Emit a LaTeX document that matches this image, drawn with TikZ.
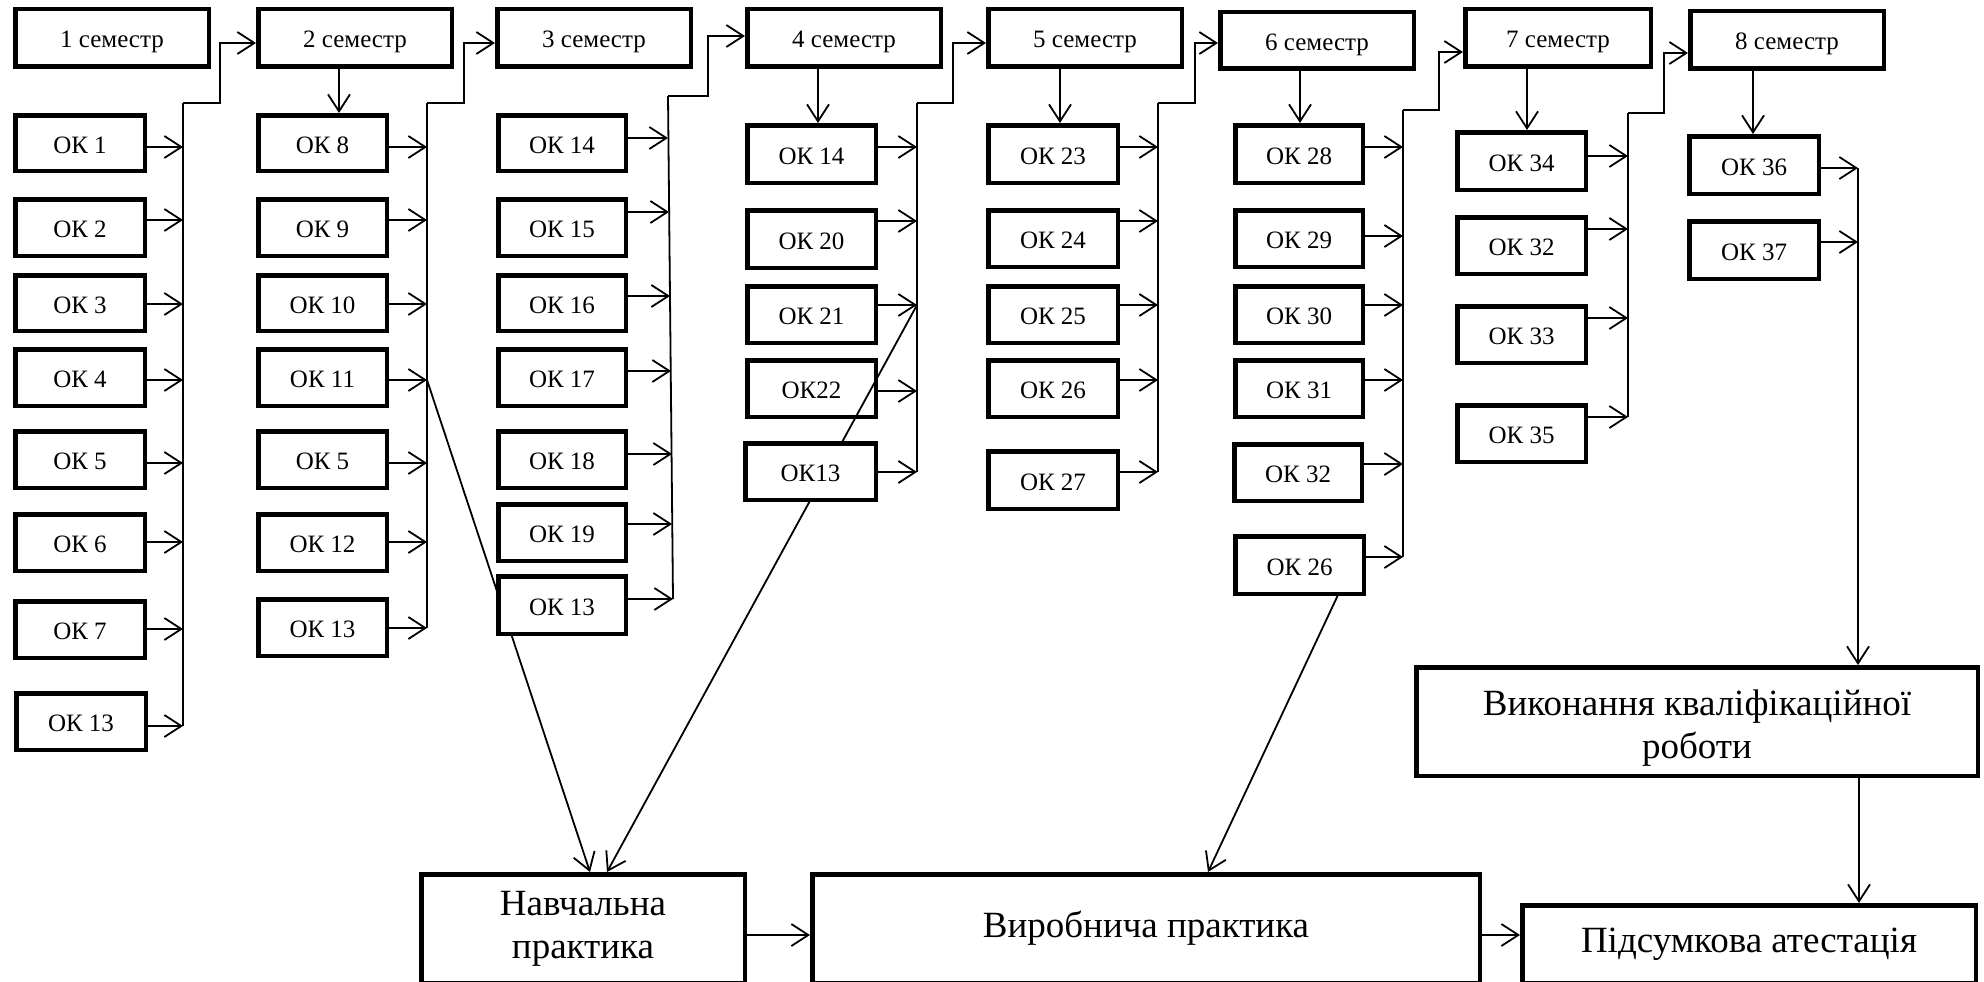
\documentclass[tikz,border=0pt]{standalone}
\usepackage{fontspec}
\setmainfont{Liberation Serif}
\usetikzlibrary{arrows.meta,calc}
\tikzset{
  box/.style={draw, line width=4.5pt, fill=white, inner sep=0pt, align=center, font=\fontsize{25}{30}\selectfont, text height=20pt, text depth=0pt},
  bigbox/.style={font=\fontsize{37}{43}\selectfont, text height=, text depth=},
  conn/.style={line width=1.8pt, -{Straight Barb[length=17pt,width=22pt]}},
  bus/.style={line width=1.8pt},
}
\newcommand\bx[7][]{\node[box,#1,minimum width={#5-#3-4.5},minimum height={#6-#4-4.5}] (#2) at ({(#3+#5)/2},{(#4+#6)/2}) {#7};}
\begin{document}
\begin{tikzpicture}[x=1pt,y=-1pt]
\fill[white] (0,0) rectangle (1984,982);
\useasboundingbox (0,0) rectangle (1984,982);

% bottom boxes
\bx[bigbox]{nav}{419}{872}{747}{985}{Навчальна\\практика}
\bx[bigbox]{vyr}{810}{872}{1482}{985}{Виробнича практика}
\bx[bigbox]{pid}{1520}{903}{1978}{985}{Підсумкова атестація}
\bx[bigbox]{vyk}{1414}{665}{1980}{778}{\smash{\raisebox{-13pt}{\begin{tabular}{@{}c@{}}Виконання кваліфікаційної\\роботи\end{tabular}}}}

% semesters
\bx{s1}{13}{7}{211}{69}{1 семестр}
\bx{s2}{256}{7}{454}{69}{2 семестр}
\bx{s3}{495}{7}{693}{69}{3 семестр}
\bx{s4}{745}{7}{943}{69}{4 семестр}
\bx{s5}{986}{7}{1184}{69}{5 семестр}
\bx{s6}{1218}{10}{1416}{71}{6 семестр}
\bx{s7}{1463}{7}{1653}{69}{7 семестр}
\bx{s8}{1688}{9}{1886}{71}{8 семестр}

% column 1
\bx{a1}{13}{113}{147}{173}{ОК 1}
\bx{a2}{13}{197}{147}{258}{ОК 2}
\bx{a3}{13}{273}{147}{333}{ОК 3}
\bx{a4}{13}{347}{147}{408}{ОК 4}
\bx{a5}{13}{429}{147}{490}{ОК 5}
\bx{a6}{13}{512}{147}{573}{ОК 6}
\bx{a7}{13}{599}{147}{660}{ОК 7}
\bx{a8}{14}{691}{148}{752}{ОК 13}

% column 2
\bx{b1}{256}{113}{389}{173}{ОК 8}
\bx{b2}{256}{197}{389}{258}{ОК 9}
\bx{b3}{256}{273}{389}{333}{ОК 10}
\bx{b4}{256}{347}{389}{408}{ОК 11}
\bx{b5}{256}{429}{389}{490}{ОК 5}
\bx{b6}{256}{512}{389}{573}{ОК 12}
\bx{b7}{256}{597}{389}{658}{ОК 13}

% column 3
\bx{c1}{496}{113}{628}{173}{ОК 14}
\bx{c2}{496}{197}{628}{258}{ОК 15}
\bx{c3}{496}{273}{628}{333}{ОК 16}
\bx{c4}{496}{347}{628}{408}{ОК 17}
\bx{c5}{496}{429}{628}{490}{ОК 18}
\bx{c6}{496}{502}{628}{563}{ОК 19}

% column 4
\bx{d1}{745}{123}{878}{185}{ОК 14}
\bx{d2}{745}{208}{878}{270}{ОК 20}
\bx{d3}{745}{284}{878}{345}{ОК 21}
\bx{d4}{745}{358}{878}{419}{ОК22}

% column 5
\bx{e1}{986}{123}{1120}{185}{ОК 23}
\bx{e2}{986}{208}{1120}{269}{ОК 24}
\bx{e3}{986}{284}{1120}{345}{ОК 25}
\bx{e4}{986}{358}{1120}{419}{ОК 26}
\bx{e5}{986}{449}{1120}{511}{ОК 27}

% column 6
\bx{f1}{1233}{123}{1365}{185}{ОК 28}
\bx{f2}{1233}{208}{1365}{269}{ОК 29}
\bx{f3}{1233}{284}{1365}{345}{ОК 30}
\bx{f4}{1233}{358}{1365}{419}{ОК 31}
\bx{f5}{1232}{442}{1364}{503}{ОК 32}
\bx{f6}{1233}{534}{1366}{596}{ОК 26}

% column 7
\bx{g1}{1455}{130}{1588}{192}{ОК 34}
\bx{g2}{1455}{215}{1588}{276}{ОК 32}
\bx{g3}{1455}{304}{1588}{365}{ОК 33}
\bx{g4}{1455}{403}{1588}{464}{ОК 35}

% column 8
\bx{h1}{1687}{134}{1821}{196}{ОК 36}
\bx{h2}{1687}{219}{1821}{281}{ОК 37}

% bus coordinates
\coordinate (B1t) at (183,103); \coordinate (B1b) at (183,726);
\coordinate (B2t) at (427,103); \coordinate (B2b) at (427,628);
\coordinate (B3t) at (668,96);  \coordinate (B3b) at (673,599);
\coordinate (B4t) at (917,103); \coordinate (B4b) at (917,472);
\coordinate (B5t) at (1158,103); \coordinate (B5b) at (1158,472);
\coordinate (B6t) at (1403,110); \coordinate (B6b) at (1403,557);
\coordinate (B7t) at (1628,113); \coordinate (B7b) at (1628,417);
\coordinate (B8t) at (1858,168);

% diagonals (behind some boxes)
\draw[conn] (B2t |- 0,380) -- ([xshift=7pt]nav.north);
\draw[conn] (B4t |- 0,305) -- ([xshift=24pt]nav.north);
\draw[conn] ([xshift=38pt]f6.south) -- ([xshift=62pt]vyr.north);

\bx{c7}{496}{574}{628}{636}{ОК 13}
\bx{d5}{743}{441}{878}{502}{ОК13}

% buses
\foreach \t/\b in {B1t/B1b,B2t/B2b,B3t/B3b,B4t/B4b,B5t/B5b,B6t/B6b,B7t/B7b}
  \draw[bus] (\t) -- (\b);

% semester chain
\draw[conn] (B1t) -- (220,103) |- (s2.west |- 0,43);
\draw[conn] (B2t) -- (464,103) |- (s3.west |- 0,43);
\draw[conn] (B3t) -- (708,96) |- (s4.west |- 0,36);
\draw[conn] (B4t) -- (953,103) |- (s5.west |- 0,43);
\draw[conn] (B5t) -- (1195,103) |- (s6.west |- 0,43);
\draw[conn] (B6t) -- (1439,110) |- (s7.west |- 0,52);
\draw[conn] (B7t) -- (1664,113) |- (s8.west |- 0,53);

% semester down arrows
\draw[conn] (s2.south -| 339,0) -- (b1.north -| 339,0);
\draw[conn] (s4.south -| 818,0) -- (d1.north -| 818,0);
\draw[conn] (s5.south -| 1060,0) -- (e1.north -| 1060,0);
\draw[conn] (s6.south -| 1300,0) -- (f1.north -| 1300,0);
\draw[conn] (s7.south -| 1527,0) -- (g1.north -| 1527,0);
\draw[conn] (s8.south -| 1753,0) -- (h1.north -| 1753,0);

% arrows into buses
\foreach \n/\y in {a1/147,a2/220,a3/304,a4/380,a5/463,a6/542,a7/629,a8/726}
  \draw[conn] (\n.east |- 0,\y) -- (B1t |- 0,\y);
\foreach \n/\y in {b1/147,b2/220,b3/304,b4/380,b5/463,b6/542,b7/628}
  \draw[conn] (\n.east |- 0,\y) -- (B2t |- 0,\y);
\foreach \n/\y/\x in {c1/138/668,c2/212/669,c3/296/670,c4/371/671,c5/454/672,c6/524/672,c7/599/673}
  \draw[conn] (\n.east |- 0,\y) -- (\x,\y);
\foreach \n/\y in {d1/147,d2/221,d3/305,d4/391,d5/472}
  \draw[conn] (\n.east |- 0,\y) -- (B4t |- 0,\y);
\foreach \n/\y in {e1/147,e2/221,e3/305,e4/380,e5/472}
  \draw[conn] (\n.east |- 0,\y) -- (B5t |- 0,\y);
\foreach \n/\y in {f1/147,f2/236,f3/305,f4/380,f5/464,f6/557}
  \draw[conn] (\n.east |- 0,\y) -- (B6t |- 0,\y);
\foreach \n/\y in {g1/156,g2/229,g3/318,g4/417}
  \draw[conn] (\n.east |- 0,\y) -- (B7t |- 0,\y);
\foreach \n/\y in {h1/168,h2/242}
  \draw[conn] (\n.east |- 0,\y) -- (B8t |- 0,\y);

% final flow
\draw[conn] (B8t) -- (vyk.north -| B8t);
\draw[conn] (vyk.south -| 1859,0) -- (pid.north -| 1859,0);
\draw[conn] (nav.east |- 0,935) -- (vyr.west |- 0,935);
\draw[conn] (vyr.east |- 0,935) -- (pid.west |- 0,935);
\end{tikzpicture}
\end{document}
